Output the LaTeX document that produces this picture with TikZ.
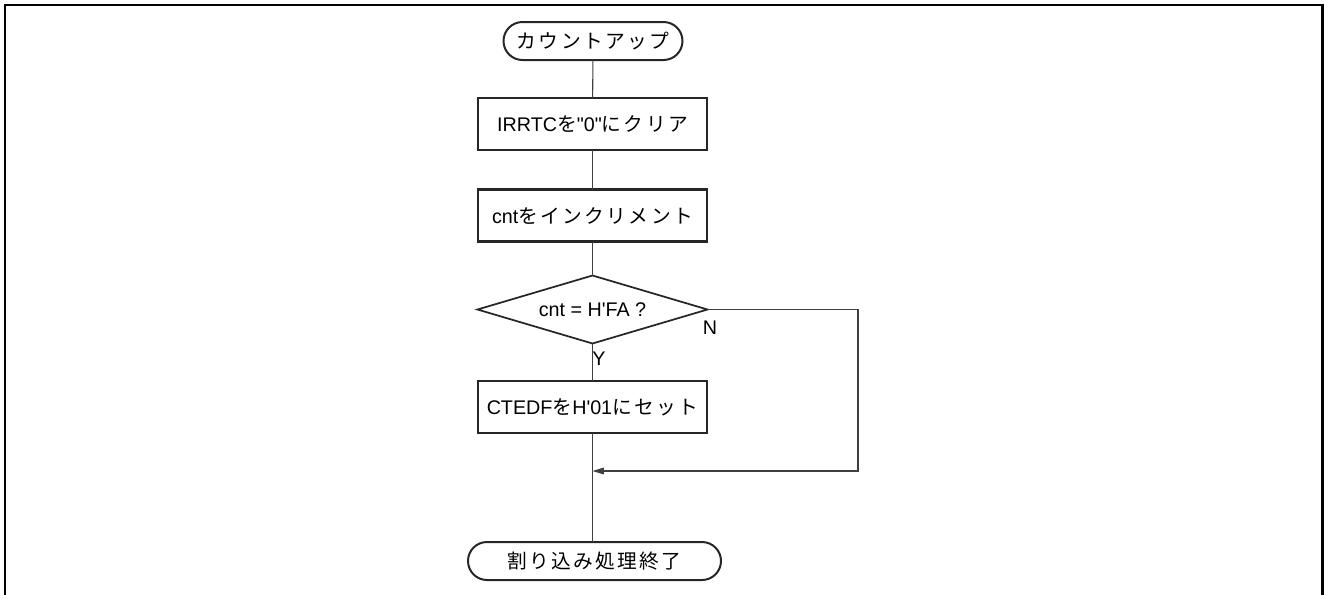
\documentclass[tikz,border=0pt]{standalone}
\usepackage{fontspec}
\setmainfont{Liberation Sans}
\newfontfamily\lat{Liberation Sans}
\newfontfamily\jfont{Noto Sans CJK JP}[LetterSpace=12]
\newcommand\jp[1]{{\jfont #1}}
\usetikzlibrary{shapes.geometric,shapes.misc,arrows.meta}
\begin{document}
\begin{tikzpicture}[x=0.75pt,y=-0.75pt,
  txt/.style={font=\lat\fontsize{14.8}{17}\selectfont},
  term/.style={rounded rectangle, draw=black!85, line width=1.5pt, inner sep=0pt, outer sep=0pt, minimum height=28.5pt, txt},
  proc/.style={rectangle, draw=black!85, line width=1.6pt, inner sep=0pt, outer sep=0pt, minimum width=171.75pt, minimum height=39pt, txt},
  dec/.style={diamond, shape aspect=3.38, draw=black!85, line width=1.3pt, inner sep=0pt, outer sep=0pt, minimum width=172.5pt, minimum height=51pt, txt},
  conn/.style={draw=black!75, line width=0.8pt},
  lbl/.style={txt, inner sep=0pt}]
\useasboundingbox (0,0) rectangle (1325,594);
\draw[line width=1.6pt] (5,610) -- (5,5) -- (1322.5,5) -- (1322.5,610);

\node[term, minimum width=134.25pt] (start) at (593,41) {\jp{カウントアップ}};
\node[proc] (b1) at (592.5,124) {IRRTC\jp{を}"0"\jp{にクリア}};
\node[proc] (b2) at (592.5,215.5) {cnt\jp{をインクリメント}};
\node[dec] (d) at (592.5,309.5) {cnt = H'FA ?};
\node[proc] (b3) at (592.5,407) {CTEDF\jp{を}H'01\jp{にセット}};
\node[term, minimum width=189.75pt] (end) at (594.5,561) {\jp{割り込み処理終了}};

\coordinate (merge) at (592.5,471);
\coordinate (corner) at (858,309.5);

\node[lbl] (N) at (710,328) {N};
\node[lbl] (Y) at (599,359) {Y};

\draw[conn] (start) -- (b1);
\draw[conn] (b1) -- (b2);
\draw[conn] (b2) -- (d);
\draw[conn] (d) -- (b3);
\draw[conn] (b3) -- (merge) -- (merge |- end.north);
\draw[conn, -{Triangle[length=8.5pt,width=5pt]}] (d.east) -- (corner) |- (merge);
\end{tikzpicture}
\end{document}
